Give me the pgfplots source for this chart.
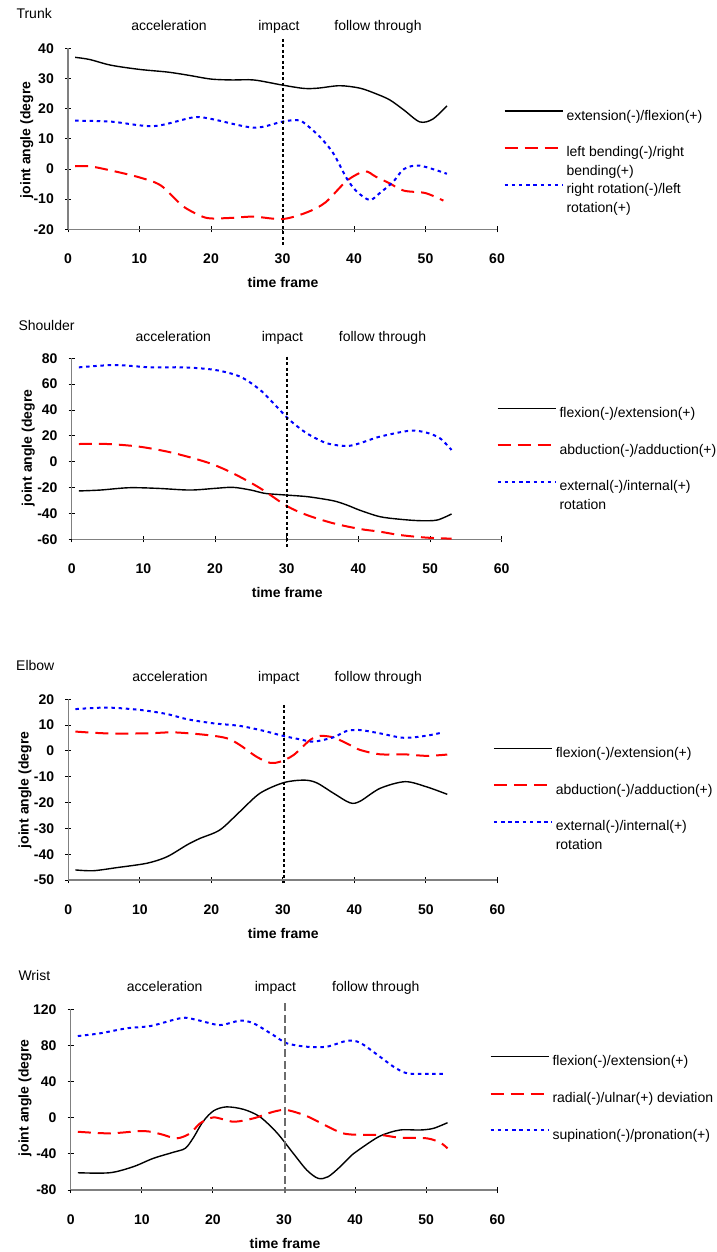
\documentclass[border=0pt]{standalone}
\usepackage{fontspec}
\setmainfont{Liberation Sans}
\usepackage{pgfplots}
\pgfplotsset{compat=1.18}

\pgfplotsset{
  panel/.style={
    scale only axis, anchor=south west, clip=false,
    xmin=0, xmax=60, xtick={0,10,20,30,40,50,60},
    axis lines*=left,
    axis line style={draw=gray, line width=1.1pt, -},
    tick align=center, major tick length=6pt,
    tick style={black, line width=0.9pt},
    ticklabel style={font=\fontsize{14}{19}\selectfont\bfseries},
    /pgf/number format/assume math mode=true,
    xticklabel style={anchor=center, yshift=-26.7pt},
    yticklabel style={anchor=east, inner sep=0pt, xshift=-11pt},
    legend style={draw=none, fill=none, inner sep=0pt, outer sep=0pt,
      anchor=north west, row sep=23.8pt, column sep=3pt,
      font=\fontsize{14}{19}\selectfont,
      nodes={inner sep=0pt, text height=10pt, text depth=3pt},
      cells={anchor=base west}},
    legend image code/.code={\draw[#1] (0pt,9pt) -- (58pt,9pt);},
  },
}
\tikzset{
  sol/.style={black, line width=1.4pt, smooth},
  dsh/.style={red, line width=2pt, dash pattern=on 13pt off 7pt, smooth},
  dot/.style={blue, line width=2pt, dash pattern=on 3.5pt off 3.7pt, smooth},
  impact/.style={black, line width=2pt, dash pattern=on 3pt off 2.5pt},
}
\newcommand{\two}[2]{\begin{tabular}[t]{@{}l@{}}#1\\#2\end{tabular}}

\begin{document}
\begin{tikzpicture}[font=\fontsize{14}{19}\selectfont]
\useasboundingbox (0pt,0pt) rectangle (716pt,-1252pt);

% ---------------- Trunk ----------------
\node[anchor=base west] at (13pt,-19pt) {Trunk};
\node[anchor=base] at (169pt,-31pt) {acceleration};
\node[anchor=base] at (279pt,-31pt) {impact};
\node[anchor=base] at (378pt,-31pt) {follow through};
\node[anchor=center, rotate=90, font=\fontsize{14}{19}\selectfont\bfseries] at (26.7pt,-140pt) {joint angle (degre};
\node[anchor=base, font=\fontsize{14}{19}\selectfont\bfseries] at (283pt,-287pt) {time frame};
\begin{axis}[panel, at={(68pt,-229.3pt)}, width=429pt, height=181pt,
  ymin=-20, ymax=40, ytick={-20,-10,...,40},
  legend style={at={(1.0152,0.6591)}}]
\addplot[sol] coordinates {(1,37.0) (3,36.3) (6,34.4) (10,33.0) (14,32.1) (17,31.0) (20,29.8) (23,29.5) (26,29.5) (30,27.8) (33,26.7) (35,26.8) (38,27.6) (40.8,26.8) (43,25) (45,22.9) (47,19.5) (49.2,15.6) (51,16.5) (53,20.9)};
\addlegendentry{extension(-)/flexion(+)}
\addplot[dsh] coordinates {(1,0.9) (3,0.9) (6,-0.5) (10,-2.8) (13,-5.5) (16,-12.2) (18.5,-15.5) (20,-16.4) (23,-16.2) (26,-15.8) (30,-16.6) (33.4,-14.4) (36,-11.1) (39,-3.9) (41.5,-0.8) (43,-2.5) (45,-4.8) (47,-7.2) (50,-8) (52.5,-10.5)};
\addlegendentry{\two{left bending(-)/right}{bending(+)}}
\addplot[dot] coordinates {(1,16) (6,15.7) (12,14.2) (17.5,17.1) (20,16.6) (26,13.7) (30,15.7) (32,16.2) (33,15.3) (35.2,10.7) (37.1,5.2) (39,-3.2) (40.4,-7.5) (42.2,-10.3) (43.6,-8) (45.5,-4.2) (47,0) (49.2,1.1) (53,-1.6)};
\addlegendentry{\two{right rotation(-)/left}{rotation(+)}}
\draw[impact] (30.07,43.1) -- (30.07,-25.2);
\end{axis}

% ---------------- Shoulder ----------------
\node[anchor=base west] at (15pt,-330pt) {Shoulder};
\node[anchor=base] at (173.3pt,-341pt) {acceleration};
\node[anchor=base] at (282.5pt,-341pt) {impact};
\node[anchor=base] at (382.5pt,-341pt) {follow through};
\node[anchor=center, rotate=90, font=\fontsize{14}{19}\selectfont\bfseries] at (28.3pt,-448pt) {joint angle (degre};
\node[anchor=base, font=\fontsize{14}{19}\selectfont\bfseries] at (287.3pt,-597pt) {time frame};
\begin{axis}[panel, at={(71.7pt,-539.3pt)}, width=430pt, height=181pt,
  ymin=-60, ymax=80, ytick={-60,-40,...,80},
  legend style={at={(0.988,0.7293)}}]
\addplot[sol] coordinates {(1,-22.6) (4,-21.9) (8,-20.1) (12,-20.6) (16.5,-21.9) (20,-20.6) (22.5,-19.8) (25,-21.9) (27,-24.5) (30,-25.8) (33,-27.1) (36.5,-30.2) (38.4,-33.5) (40.2,-37.5) (43,-42.5) (45.8,-44.5) (48.6,-45.6) (51,-45.1) (53,-40.4)};
\addlegendentry{flexion(-)/extension(+)}
\addplot[dsh] coordinates {(1,13.7) (5,13.7) (9.5,11.6) (14,7) (19,-0.7) (22.5,-8.9) (26.3,-20.5) (30,-34.2) (32.8,-41.2) (36.5,-47.6) (40.2,-52) (43,-54.1) (45.8,-56.7) (49.5,-58.7) (53,-59.5)};
\addlegendentry{abduction(-)/adduction(+)}
\addplot[dot] coordinates {(1,73) (6,74.8) (11,73) (15.6,73) (20,71) (23.5,65.8) (26.3,55.5) (28.6,42.6) (30.4,32.3) (32.8,22) (35.6,14.3) (38.4,12.2) (40.2,14.3) (43,19.4) (47.2,24) (49.5,22.5) (51.4,18.1) (53,9.1)};
\addlegendentry{\two{external(-)/internal(+)}{rotation}}
\draw[impact] (30,81.2) -- (30,-65.7);
\end{axis}

% ---------------- Elbow ----------------
\node[anchor=base west] at (12.7pt,-670pt) {Elbow};
\node[anchor=base] at (170pt,-681.7pt) {acceleration};
\node[anchor=base] at (278.8pt,-681.7pt) {impact};
\node[anchor=base] at (378.3pt,-681.7pt) {follow through};
\node[anchor=center, rotate=90, font=\fontsize{14}{19}\selectfont\bfseries] at (25pt,-790pt) {joint angle (degre};
\node[anchor=base, font=\fontsize{14}{19}\selectfont\bfseries] at (283.3pt,-938pt) {time frame};
\begin{axis}[panel, at={(68.3pt,-880pt)}, width=429pt, height=180.7pt,
  ymin=-50, ymax=20, ytick={-50,-40,...,20},
  legend style={at={(0.9895,0.7344)}}]
\addplot[sol] coordinates {(1,-46.1) (3.5,-46.4) (6.8,-45.2) (11,-43.5) (13.8,-41) (16.6,-36.4) (18.4,-33.9) (21.2,-30.6) (24,-23.5) (26.8,-16.4) (30.1,-12.3) (32.9,-11.3) (34.7,-12.3) (37.1,-16.4) (39.4,-20.1) (40.8,-19.5) (43.6,-14.5) (47.1,-11.9) (50.1,-13.9) (53,-16.8)};
\addlegendentry{flexion(-)/extension(+)}
\addplot[dsh] coordinates {(1,7.5) (5.4,6.8) (11,6.8) (14.7,7.2) (19.3,6.2) (22.2,4.9) (24,2.3) (26.3,-2.2) (28.2,-4.6) (29.6,-4.2) (31.5,-1.6) (33.8,4.2) (35.2,5.8) (37.1,5.2) (39.4,2.3) (40.8,0.4) (43.6,-1.3) (46.9,-1.3) (50.1,-1.9) (53,-1.4)};
\addlegendentry{abduction(-)/adduction(+)}
\addplot[dot] coordinates {(1,16.2) (5.4,16.8) (10,15.9) (13.8,14.3) (16.6,12.3) (20.3,10.7) (24,9.7) (27.3,7.8) (30.1,5.8) (32.4,4.5) (34.3,3.6) (37.1,5.3) (38.9,7.7) (40.8,8.1) (43.6,6.8) (46.9,5.1) (50.1,5.9) (52.4,7.2)};
\addlegendentry{\two{external(-)/internal(+)}{rotation}}
\draw[impact] (30.1,17.8) -- (30.1,-51);
\end{axis}

% ---------------- Wrist ----------------
\node[anchor=base west] at (15pt,-980pt) {Wrist};
\node[anchor=base] at (164.7pt,-991.7pt) {acceleration};
\node[anchor=base] at (275.5pt,-991.7pt) {impact};
\node[anchor=base] at (375.8pt,-991.7pt) {follow through};
\node[anchor=center, rotate=90, font=\fontsize{14}{19}\selectfont\bfseries] at (25pt,-1098pt) {joint angle (degre};
\node[anchor=base, font=\fontsize{14}{19}\selectfont\bfseries] at (285pt,-1248pt) {time frame};
\begin{axis}[panel, at={(70.7pt,-1190pt)}, width=426.6pt, height=180.7pt,
  ymin=-80, ymax=120, ytick={-80,-40,...,120},
  legend style={at={(0.9817,0.7432)}}]
\addplot[sol] coordinates {(1,-60.9) (5.5,-60.9) (8.8,-54.2) (11.6,-45) (14.4,-38.3) (16.1,-33.9) (17.2,-22.8) (18.6,-4.4) (20.1,7.7) (21.9,12) (24.3,9.3) (26.6,1.1) (29,-16.6) (31.3,-39.4) (33.2,-57.9) (34.8,-67.1) (36.2,-65.3) (37.9,-54.2) (39.7,-40.2) (40.7,-34.5) (43.5,-20.3) (46.3,-13.6) (49.1,-13.6) (51,-11.8) (53,-5.5)};
\addlegendentry{flexion(-)/extension(+)}
\addplot[dsh] coordinates {(1,-15.5) (5.5,-17.3) (10.2,-14.7) (12.6,-18) (14.9,-22.8) (16.8,-17.3) (18.2,-6.2) (20.1,0.4) (22.9,-4.4) (25.7,-0.7) (28.5,6.6) (30.4,8.5) (33.2,1.8) (36,-9.2) (38.3,-17.3) (40.7,-19) (43.5,-19) (46.3,-22.1) (50.1,-22.8) (52,-27.7) (53,-33.9)};
\addlegendentry{radial(-)/ulnar(+) deviation}
\addplot[dot] coordinates {(1,90.4) (4.1,93.4) (7.9,99) (11.2,101.5) (14.4,108.2) (16.1,110.7) (18.2,107.4) (21,102.6) (23.8,107.4) (25.7,104.5) (28.5,91.5) (30.4,82.4) (33.2,78.6) (36,78.6) (38.9,85.2) (40.7,83) (43.5,67.5) (45.4,56.5) (47.3,49.2) (50.1,48.5) (52.7,48.5)};
\addlegendentry{supination(-)/pronation(+)}
\draw[gray!85!black, line width=2pt, dash pattern=on 8pt off 3.5pt] (30.2,126.6) -- (30.2,-83.7);
\end{axis}
\end{tikzpicture}
\end{document}
